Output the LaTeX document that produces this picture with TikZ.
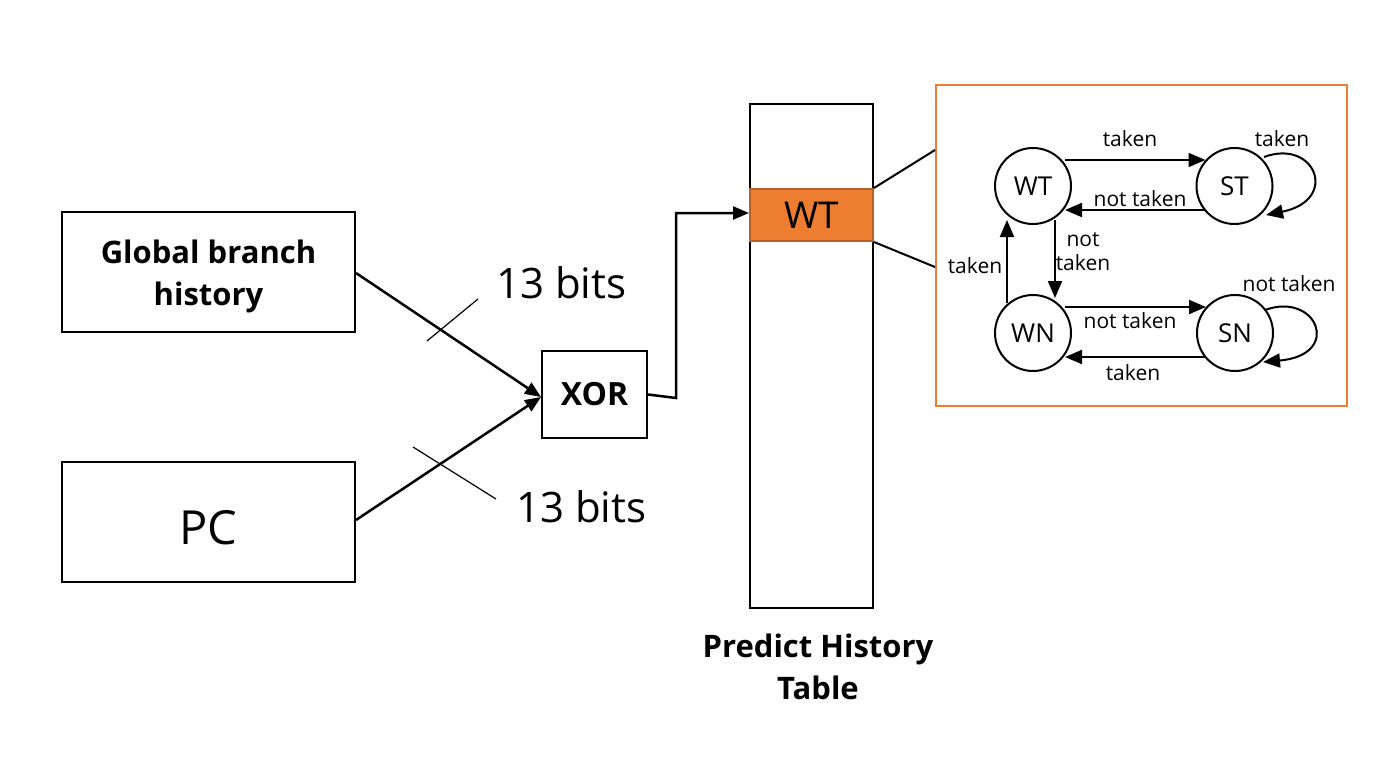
\documentclass[tikz,border=0pt]{standalone}
\usepackage{fontspec}
\setmainfont{Open Sans}
\usetikzlibrary{arrows.meta}
\definecolor{org}{HTML}{ED7D31}
\definecolor{orgdark}{HTML}{B5622A}
\tikzset{
  blk/.style={draw=black, line width=2pt},
  conn/.style={line width=2.5pt, -{Triangle[length=16pt,width=13pt]}},
  plain/.style={line width=2pt},
  slash/.style={line width=1.2pt},
  st/.style={circle, draw=black, line width=2pt, minimum size=76pt, inner sep=0pt, font=\fontsize{26}{30}\selectfont},
  sa/.style={line width=2pt, -{Triangle[length=17pt,width=14pt]}},
  lab/.style={font=\fontsize{21}{24}\selectfont, inner sep=1pt},
}
\begin{document}
\begin{tikzpicture}[x=1pt,y=-1pt]
\useasboundingbox (0,0) rectangle (1398,758);
% left boxes
\node[blk, minimum width=293pt, minimum height=120pt] (gbh) at (208.5,272) {};
\node[align=center, font=\fontsize{31}{42}\selectfont\bfseries] (gbht) at (208.5,276) {Global branch\\history};
\node[blk, minimum width=293pt, minimum height=120pt] (pc) at (208.5,522) {};
\node[font=\fontsize{47}{50}\selectfont] (pct) at (208.5,528) {PC};
\node[blk, minimum width=105pt, minimum height=87pt, font=\fontsize{32}{36}\selectfont\bfseries] (xor) at (594.5,394.5) {XOR};
% connectors to xor
\coordinate (xin) at (541,397);
\draw[conn] (gbh.east |- 0,273) -- (xin);
\draw[conn] (pc.east |- 0,520) -- (xin);
% slashes
\coordinate (s1a) at (427,341); \coordinate (s1b) at (478,299);
\draw[slash] (s1a) -- (s1b);
\coordinate (s2a) at (413,447); \coordinate (s2b) at (496,499);
\draw[slash] (s2a) -- (s2b);
\node[font=\fontsize{42}{44}\selectfont, anchor=west, inner sep=0pt] (b1) at (496,283) {13 bits};
\node[font=\fontsize{42}{44}\selectfont, anchor=west, inner sep=0pt] (b2) at (516,507) {13 bits};
% table
\node[blk, minimum width=123pt, minimum height=504pt, inner sep=0pt] (tab) at (811.5,356) {};
\node[draw=orgdark, fill=org, line width=2pt, minimum width=123pt, minimum height=52pt, inner sep=0pt, font=\fontsize{37}{40}\selectfont] (wt) at (811.5,215) {WT};
\node[align=center, font=\fontsize{31}{42}\selectfont\bfseries] (ptl) at (818,667) {Predict History\\Table};
\draw[line width=2.5pt, -{Triangle[length=16pt,width=13pt]}] (xor.east) -- (676,398) -- (676,213) -- (wt.west |- 0,213);
% zoom box
\node[draw=org, line width=2pt, minimum width=411pt, minimum height=321pt, inner sep=0pt] (zb) at (1141.5,245.5) {};
\draw[plain] (wt.north east) -- (zb.west |- 0,150);
\draw[plain] (wt.south east) -- (zb.west |- 0,267);
% states
\node[st] (WT) at (1033,186) {WT};
\node[st] (ST) at (1234.5,186) {ST};
\node[st] (WN) at (1033,333) {WN};
\node[st] (SN) at (1235,333) {SN};
\draw[sa] ([xshift=-7pt]WT.east |- 0,160) -- ([xshift=10pt]ST.west |- 0,160);
\draw[sa] ([xshift=10pt]ST.west |- 0,210) -- ([xshift=-7pt]WT.east |- 0,210);
\draw[sa] (1055,220) -- (1055,298);
\draw[sa] (1007,303) -- (1007,220);
\draw[sa] ([xshift=-7pt]WN.east |- 0,307) -- ([xshift=10pt]SN.west |- 0,307);
\draw[sa] ([xshift=10pt]SN.west |- 0,357) -- ([xshift=-7pt]WN.east |- 0,357);
\draw[sa] (1264,157) .. controls (1315,138) and (1340,200) .. (1266,215);
\draw[sa] (1265,310) .. controls (1317,291) and (1343,355) .. (1263,362);
% labels
\node[lab] (l1) at (1130,139) {taken};
\node[lab] (l2) at (1282,139) {taken};
\node[lab] (l3) at (1140,199) {not taken};
\node[lab, align=center] (l4) at (1083,252) {not\\taken};
\node[lab] (l5) at (975,266) {taken};
\node[lab] (l6) at (1289,284) {not taken};
\node[lab] (l7) at (1130,321) {not taken};
\node[lab] (l8) at (1133,373) {taken};
\end{tikzpicture}
\end{document}
